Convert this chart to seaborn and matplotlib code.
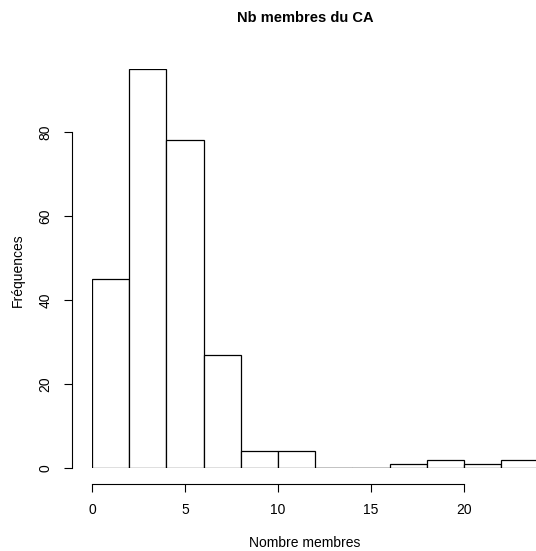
import numpy as np
import seaborn as sns
import matplotlib.pyplot as plt

bornes = [0, 2, 4, 6, 8, 10, 12, 14, 16, 18, 20, 22, 24]
effectifs = [45, 95, 78, 27, 4, 4, 0, 0, 1, 2, 1, 2]
centres = [(a + b) / 2 for a, b in zip(bornes[:-1], bornes[1:])]

sns.set_style("white")
plt.rcParams['font.family'] = ['Liberation Sans', 'DejaVu Sans']
plt.rcParams.update({"text.color": "black", "xtick.color": "black",
                     "ytick.color": "black", "axes.labelcolor": "black"})

fig = plt.figure(figsize=(5.36, 5.51), dpi=100)
ax = fig.add_axes([92 / 536, 83 / 551, 444 / 536, 399 / 551])

sns.histplot(x=centres, weights=effectifs, bins=bornes, ax=ax,
             color="white", edgecolor="black", linewidth=0.9, alpha=1)

# les classes vides restent visibles comme un trait sur la ligne de base
for a, b, n in zip(bornes[:-1], bornes[1:], effectifs):
    if n == 0:
        ax.plot([a, b], [0, 0], color="black", linewidth=0.9)

ax.set_xlim(0, 444 / 18.6)
ax.set_ylim(0, 95)

for s in ["top", "right"]:
    ax.spines[s].set_visible(False)
ax.spines["bottom"].set_position(("outward", 11.5))
ax.spines["left"].set_position(("outward", 14.4))
ax.spines["bottom"].set_bounds(0, 20)
ax.spines["left"].set_bounds(0, 80)
for s in ["bottom", "left"]:
    ax.spines[s].set_linewidth(0.8)
    ax.spines[s].set_color("black")

ax.set_xticks([0, 5, 10, 15, 20])
ax.set_yticks([0, 20, 40, 60, 80])
ax.tick_params(axis="both", direction="out", length=6, width=0.8,
               labelsize=10, bottom=True, left=True, pad=8)
for lab in ax.get_yticklabels():
    lab.set_rotation(90)
    lab.set_va("center")

ax.set_xlabel("")
ax.set_ylabel("")
fig.text(305 / 536, 1 - 543 / 551, "Nombre membres", ha="center", va="center", fontsize=10)
fig.text(18 / 536, 1 - 270 / 551, "Fréquences", ha="center", va="center", rotation=90, fontsize=10)
fig.text(305 / 536, 1 - 18 / 551, "Nb membres du CA", ha="center", va="center",
         fontsize=10.5, fontweight="bold")

fig.savefig("out.png", dpi=100)
